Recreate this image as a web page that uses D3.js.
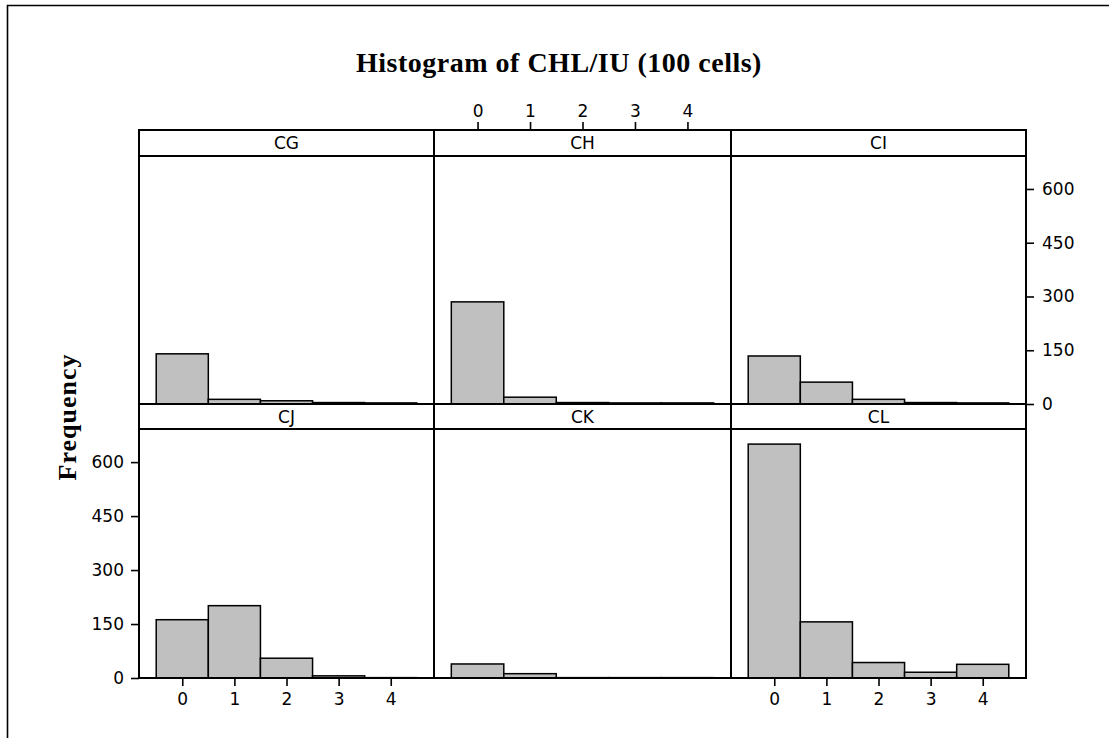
<!DOCTYPE html>
<html>
<head>
<meta charset="utf-8">
<script src="https://cdn.jsdelivr.net/npm/d3@7"></script>
<style>
  html, body { margin: 0; padding: 0; background: #fff; }
  svg { display: block; }
</style>
</head>
<body>
<svg id="chart" width="1109" height="738"></svg>
<script>
// Panels (by-variable levels), laid out 3 across, 2 down
const categories = ["CG", "CH", "CI", "CJ", "CK", "CL"];
// Histogram bins (midpoints of CHL/IU)
const binMidpoints = [0, 1, 2, 3, 4];
// Frequency per bin for each panel
const countsCG = [140, 13, 9, 4, 3];
const countsCH = [285, 19, 4, 3, 3];
const countsCI = [134, 61, 13, 4, 3];
const countsCJ = [162, 201, 55, 6, 1];
const countsCK = [39, 12, 1, 1, 1];
const countsCL = [650, 156, 43, 16, 38];
const freqTicks = [0, 150, 300, 450, 600];
const binTicks = [0, 1, 2, 3, 4];

const titleText = "Histogram of CHL/IU (100 cells)";
const yLabelText = "Frequency";

const panelCounts = [countsCG, countsCH, countsCI, countsCJ, countsCK, countsCL];

const svg = d3.select("#chart");

// outer page frame
svg.append("path")
  .attr("d", "M7.5,740 V5.5 H1112")
  .attr("fill", "none").attr("stroke", "#000").attr("stroke-width", 1.6);

// grid geometry
const colEdges = [139, 434, 731, 1026];
const rows = [
  { stripTop: 130, plotTop: 156, plotBottom: 404 },
  { stripTop: 404, plotTop: 429, plotBottom: 678 }
];
const yMax = 692;
const xDomain = [-0.83, 4.83];

const tickFont = "DejaVu Sans, Verdana, sans-serif";
const tickSize = 17;

categories.forEach((cat, i) => {
  const r = Math.floor(i / 3), c = i % 3;
  const row = rows[r];
  const x0 = colEdges[c], x1 = colEdges[c + 1];
  const x = d3.scaleLinear().domain(xDomain).range([x0, x1]);
  const y = d3.scaleLinear().domain([0, yMax]).range([row.plotBottom, row.plotTop]);
  const g = svg.append("g");

  // bars
  const data = binMidpoints.map((m, k) => ({ m, v: panelCounts[i][k] }));
  g.selectAll("rect.bar").data(data).enter().append("rect")
    .attr("class", "bar")
    .attr("x", d => x(d.m - 0.5))
    .attr("width", d => x(d.m + 0.5) - x(d.m - 0.5))
    .attr("y", d => y(d.v))
    .attr("height", d => y(0) - y(d.v))
    .attr("fill", "#c0c0c0")
    .attr("stroke", "#000")
    .attr("stroke-width", 1.5);

  // plot frame
  g.append("rect")
    .attr("x", x0).attr("y", row.plotTop)
    .attr("width", x1 - x0).attr("height", row.plotBottom - row.plotTop)
    .attr("fill", "none").attr("stroke", "#000").attr("stroke-width", 2);

  // strip
  g.append("rect")
    .attr("x", x0).attr("y", row.stripTop)
    .attr("width", x1 - x0).attr("height", row.plotTop - row.stripTop)
    .attr("fill", "#fff").attr("stroke", "#000").attr("stroke-width", 2);
  g.append("text")
    .attr("x", (x0 + x1) / 2)
    .attr("y", (row.stripTop + row.plotTop) / 2)
    .attr("dy", "0.36em")
    .attr("text-anchor", "middle")
    .attr("font-family", tickFont)
    .attr("font-size", tickSize)
    .attr("fill", "#000")
    .text(cat);

  // axes: top on CH, right on CI, left on CJ, bottom on CJ and CL
  const styleAxis = sel => {
    sel.select(".domain").remove();
    sel.selectAll(".tick line").attr("stroke", "#000").attr("stroke-width", 1.6);
    sel.selectAll(".tick text")
      .attr("font-family", tickFont)
      .attr("font-size", tickSize)
      .attr("fill", "#000");
  };
  if (cat === "CH") {
    svg.append("g").attr("transform", `translate(0,${row.stripTop})`)
      .call(d3.axisTop(x).tickValues(binTicks).tickSize(8).tickPadding(5).tickFormat(d3.format("d")))
      .call(styleAxis);
  }
  if (cat === "CI") {
    svg.append("g").attr("transform", `translate(${x1},0)`)
      .call(d3.axisRight(y).tickValues(freqTicks).tickSize(8).tickPadding(8).tickFormat(d3.format("d")))
      .call(styleAxis);
  }
  if (cat === "CJ") {
    svg.append("g").attr("transform", `translate(${x0},0)`)
      .call(d3.axisLeft(y).tickValues(freqTicks).tickSize(8).tickPadding(7).tickFormat(d3.format("d")))
      .call(styleAxis);
  }
  if (cat === "CJ" || cat === "CL") {
    svg.append("g").attr("transform", `translate(0,${row.plotBottom})`)
      .call(d3.axisBottom(x).tickValues(binTicks).tickSize(8).tickPadding(7).tickFormat(d3.format("d")))
      .call(styleAxis);
  }
});

// title
svg.append("text")
  .attr("x", 559).attr("y", 72)
  .attr("text-anchor", "middle")
  .attr("font-family", "Liberation Serif, Times New Roman, serif")
  .attr("font-weight", "bold")
  .attr("font-size", 28)
  .attr("letter-spacing", 0.5)
  .attr("fill", "#000")
  .text(titleText);

// y-axis label
svg.append("text")
  .attr("transform", "translate(76,417) rotate(-90)")
  .attr("text-anchor", "middle")
  .attr("font-family", "Liberation Serif, Times New Roman, serif")
  .attr("font-weight", "bold")
  .attr("font-size", 26)
  .attr("letter-spacing", 1)
  .attr("fill", "#000")
  .text(yLabelText);
</script>
</body>
</html>
